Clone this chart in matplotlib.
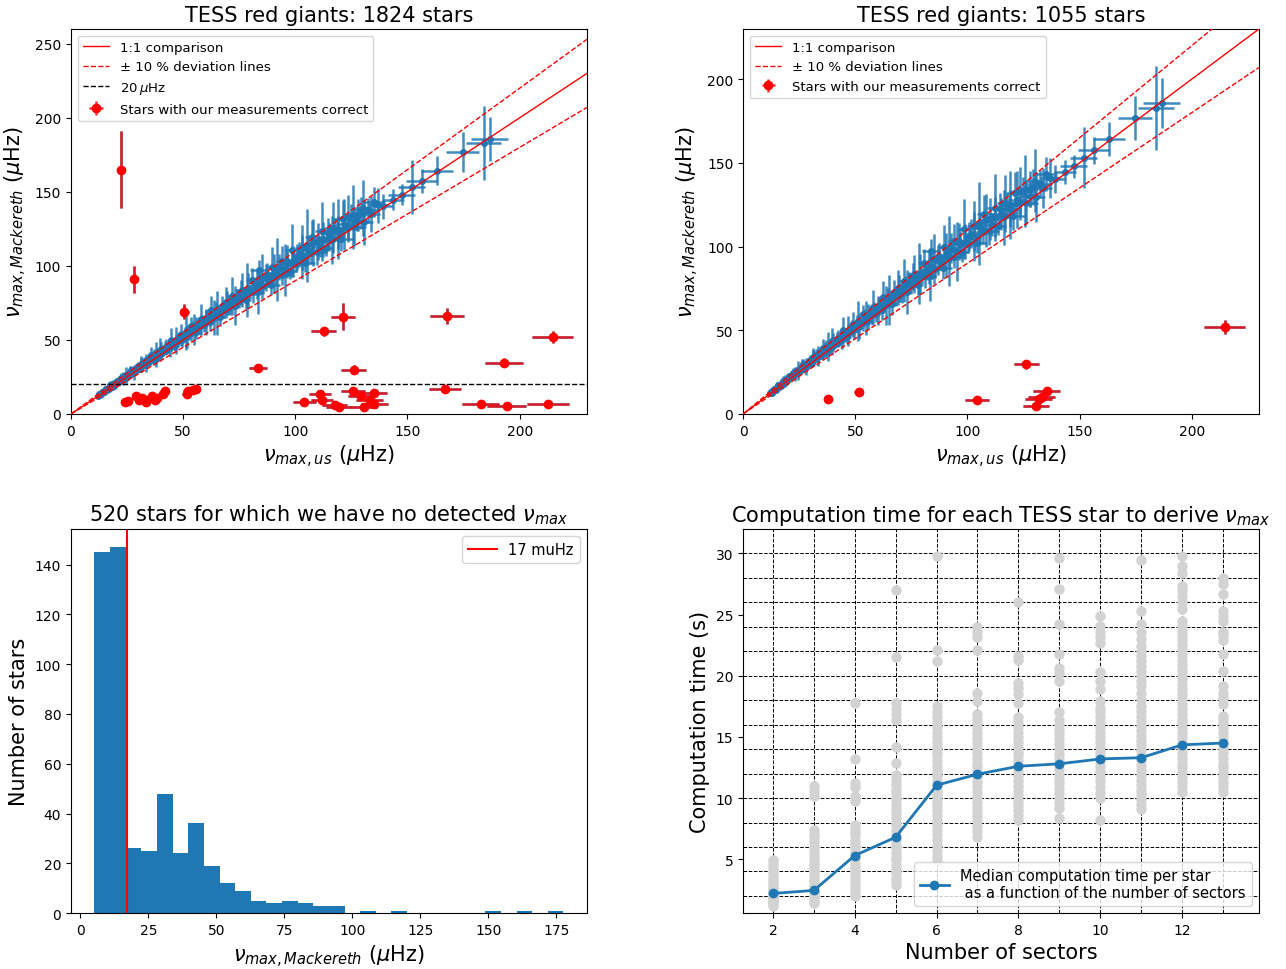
import numpy as np
import matplotlib
matplotlib.use("Agg")
import matplotlib.pyplot as plt
from matplotlib.ticker import MultipleLocator

# Stars on the 1:1 relation: nu_max from our pipeline vs Mackereth (muHz)
blue_us = [
    12.0, 12.4, 12.8, 13.1, 13.5, 13.9, 14.2, 14.6, 15.0, 15.3, 15.7, 16.1, 16.5, 16.9, 17.3,
    17.7, 18.1, 18.5, 18.9, 19.3, 19.8, 20.2, 20.6, 21.1, 21.5, 22.0, 22.4, 22.9, 23.3, 23.8,
    24.3, 24.7, 25.2, 25.7, 26.2, 26.7, 27.2, 27.7, 28.2, 28.7, 29.2, 29.8, 30.3, 30.8, 31.4,
    31.9, 32.5, 33.0, 33.6, 34.2, 34.8, 35.4, 36.0, 36.6, 37.2, 37.8, 38.4, 39.0, 39.7, 40.3,
    41.0, 41.7, 42.4, 43.2, 44.0, 44.7, 45.5, 46.3, 47.0, 47.8, 48.6, 49.4, 50.2, 51.0, 51.8,
    52.6, 53.4, 54.2, 55.0, 55.9, 56.7, 57.6, 58.4, 59.3, 60.1, 61.0, 61.9, 62.8, 63.7, 64.6,
    65.5, 66.4, 67.3, 68.2, 69.2, 70.1, 71.0, 72.0, 73.0, 73.9, 74.9, 75.9, 76.9, 77.9, 78.9,
    79.9,
    81.0, 82.1, 83.3, 84.4, 85.6, 86.8, 88.0, 89.2, 90.4, 91.6, 92.8, 94.0, 95.3, 96.5, 97.8,
    99.0, 100.3, 101.6, 102.9, 104.2, 105.5, 106.8, 108.1, 109.5, 110.8, 112.2, 113.5, 114.9,
    116.3, 117.7, 119.1, 120.5, 121.9, 123.4, 124.8, 126.3, 127.7, 129.2, 130.7, 132.2, 133.7,
    135.2, 136.8,
    83.9, 139.1, 143.6, 147.4, 151.9, 156.3, 163.2, 174.7, 184.0, 186.6,
]
blue_mack = [
    12.4, 13.3, 12.8, 13.8, 13.8, 15.0, 14.8, 14.5, 15.9, 15.8, 17.1, 16.3, 17.0, 18.1, 17.3,
    18.6, 18.5, 20.0, 19.7, 19.1, 21.0, 20.8, 22.5, 21.3, 22.1, 23.5, 22.4, 24.0, 23.8, 25.7,
    25.3, 24.5, 26.7, 26.5, 28.6, 27.0, 28.0, 29.6, 28.2, 30.1, 29.8, 32.2, 31.5, 30.5, 33.3,
    32.9, 35.4, 33.3, 34.6, 36.6, 34.8, 37.2, 36.7, 39.5, 38.7, 37.4, 40.7, 40.2, 43.3, 40.7,
    42.2, 44.6, 42.4, 45.4, 44.9, 48.3, 47.3, 45.8, 49.8, 49.2, 53.0, 49.9, 51.7, 54.6, 51.8,
    55.2, 54.5, 58.5, 57.2, 55.3, 60.1, 59.3, 63.7, 59.9, 61.9, 65.3, 61.9, 65.9, 65.0, 69.8,
    68.1, 65.7, 71.3, 70.2, 75.4, 70.8, 73.1, 77.0, 73.0, 77.6, 76.4, 82.0, 80.0, 77.1, 83.6,
    82.3,
    82.6, 86.2, 82.5, 87.8, 86.5, 92.0, 90.6, 87.4, 94.9, 93.4, 99.3, 94.0, 97.2, 101.3, 96.8,
    103.0, 101.3, 107.7, 106.0, 102.1, 110.8, 108.9, 115.7, 109.5, 113.0, 117.8, 112.4, 119.5,
    117.5, 124.8, 122.7, 118.1, 128.0, 125.9, 133.5, 126.3, 130.3, 135.7, 129.4, 137.5, 135.0,
    143.3, 140.9,
    97.3, 140.3, 144.6, 148.0, 153.2, 157.4, 164.4, 176.8, 182.9, 185.8,
]
blue_us_err = [
    0.3, 0.4, 0.3, 0.5, 0.3, 0.4, 0.3, 0.4, 0.3, 0.6, 0.3, 0.5, 0.4, 0.5, 0.3,
    0.7, 0.4, 0.6, 0.4, 0.5, 0.4, 0.8, 0.4, 0.6, 0.5, 0.7, 0.4, 0.9, 0.5, 0.7,
    0.5, 0.7, 0.5, 1.0, 0.5, 0.8, 0.5, 0.8, 0.6, 1.1, 0.6, 0.9, 0.6, 0.9, 0.6,
    1.2, 0.7, 1.0, 0.7, 1.0, 0.7, 1.4, 0.7, 1.1, 0.7, 1.1, 0.8, 1.5, 0.8, 1.2,
    1.0, 1.4, 0.9, 1.6, 1.1, 1.3, 1.0, 1.5, 1.1, 1.7, 1.2, 1.4, 1.1, 1.6, 1.2,
    1.9, 1.3, 1.5, 1.2, 1.8, 1.3, 2.0, 1.4, 1.6, 1.3, 1.9, 1.4, 2.2, 1.5, 1.8,
    1.5, 2.1, 1.6, 2.4, 1.6, 1.9, 1.6, 2.3, 1.7, 2.6, 1.8, 2.1, 1.8, 2.5, 1.9,
    2.8,
    2.4, 3.3, 2.5, 3.6, 2.6, 3.1, 2.7, 3.8, 2.8, 3.4, 2.9, 4.0, 3.0, 3.6, 3.0,
    4.2, 3.1, 3.7, 3.2, 4.4, 3.3, 3.9, 3.4, 4.6, 3.5, 4.0, 3.5, 4.8,
    3.6, 4.2, 3.7, 5.0, 3.8, 4.3, 3.9, 5.2, 4.0, 4.5, 4.1, 5.4, 4.2,
    4.7, 4.3,
    4.0, 4.6, 5.0, 6.0, 6.0, 7.0, 7.0, 7.4, 7.9, 8.2,
]
blue_mack_err = [
    0.7, 1.3, 0.6, 1.1, 1.9, 0.9, 1.3, 1.0, 2.9, 1.3, 1.0, 1.6, 0.9, 1.4, 2.4,
    1.1, 1.7, 1.4, 3.5, 1.5, 1.3, 2.1, 1.1, 1.7, 3.1, 1.4, 2.0, 1.7, 4.3, 2.1,
    1.5, 2.5, 1.3, 2.1, 4.0, 1.6, 2.5, 2.1, 5.1, 2.4, 1.8, 3.2, 1.6, 2.4, 4.7,
    2.0, 3.2, 2.3, 6.2, 2.9, 2.1, 3.7, 1.8, 3.2, 5.4, 2.2, 3.7, 2.8, 7.8, 3.3,
    2.5, 4.5, 2.1, 3.6, 6.3, 2.9, 4.3, 3.2, 9.0, 3.9, 3.2, 5.0, 2.6, 4.4, 7.3,
    3.3, 4.9, 4.1, 10.3, 4.4, 3.6, 5.9, 3.2, 4.8, 8.7, 3.9, 5.6, 4.6, 11.7, 5.6,
    4.1, 6.6, 3.6, 5.6, 10.6, 4.2, 6.6, 5.4, 13.1, 6.2, 4.6, 8.2, 4.0, 6.2, 11.7,
    4.9,
    7.4, 6.0, 14.9, 7.0, 5.2, 9.2, 4.5, 7.0, 13.3, 5.6, 8.9, 6.6, 17.5, 8.1, 5.8,
    10.3, 5.1, 8.6, 14.8, 6.1, 10.0, 7.6, 16.0, 8.8, 6.8, 11.8, 5.6, 9.6,
    16.5, 7.5, 11.0, 8.3, 17.0, 10.1, 8.0, 12.6, 6.5, 10.9, 15.0, 8.3, 12.2,
    10.0, 12.0,
    7.0, 8.5, 7.0, 7.0, 18.0, 8.0, 10.0, 13.3, 25.0, 15.0,
]

# Stars sitting on the upper side of the relation
upper_us = [
    15.4, 17.6, 19.9, 22.1, 24.4, 26.6, 28.9, 31.1, 33.4, 35.6, 37.9, 40.1, 42.4, 44.6,
    46.9, 49.1, 51.4, 53.6, 55.9, 58.1, 60.4, 62.6, 64.9, 67.1, 69.4, 71.6, 73.9, 76.1,
    78.4, 80.6, 82.9, 85.1, 87.4, 89.6, 91.9, 94.1, 96.4, 98.6, 100.9, 103.1, 105.4, 107.6,
    109.9, 112.1, 114.4, 116.6, 118.9, 121.1, 123.4, 125.6, 127.9, 130.1,
]
upper_mack = [
    16.6, 19.5, 21.1, 24.3, 26.1, 29.8, 30.3, 33.9, 36.1, 39.5, 40.2, 44.1, 45.4, 50.0,
    49.2, 53.5, 55.5, 59.5, 59.3, 63.9, 64.6, 70.1, 68.1, 73.1, 75.0, 79.5, 78.3, 83.7,
    83.9, 90.3, 87.0, 92.8, 94.4, 99.5, 97.4, 103.5, 103.1, 110.4, 105.9, 112.4, 113.8, 119.4,
    116.5, 123.3, 122.4, 125.9, 124.8, 132.0, 133.3, 133.1, 134.3, 139.2,
]
upper_us_err = [
    0.5, 0.6, 0.6, 0.8, 0.7, 0.9, 0.9, 1.0, 1.0, 1.2, 1.1, 1.3, 1.3, 1.4,
    1.4, 1.6, 1.5, 1.7, 1.7, 1.8, 1.8, 2.0, 1.9, 2.1, 2.1, 2.2, 2.2, 2.4,
    2.3, 2.5, 2.5, 2.6, 2.6, 2.8, 2.7, 2.9, 2.9, 3.0, 3.0, 3.2, 3.1, 3.3,
    3.3, 3.4, 3.4, 3.6, 3.5, 3.7, 3.7, 3.8, 3.8, 4.0,
]
upper_mack_err = [
    1.8, 3.1, 1.8, 3.2, 5.7, 2.8, 3.2, 5.5, 3.0, 5.4, 8.6, 4.2, 4.9, 8.1,
    4.1, 7.3, 12.0, 5.7, 6.3, 10.4, 5.3, 9.5, 14.7, 6.9, 8.1, 12.8, 6.3, 11.3,
    18.1, 8.5, 9.5, 15.0, 7.7, 13.5, 21.1, 9.7, 11.1, 17.8, 8.6, 15.1, 24.6, 11.3,
    12.6, 20.0, 9.9, 17.0, 20.3, 12.4, 14.4, 21.6, 10.9, 18.8,
]

# Stars flagged in red, left panel (1824 stars)
red_us = [22.3, 28.0, 50.5, 121.2, 112.7, 167.6, 214.7, 83.4, 126.0, 193.0, 166.8, 182.6,
          194.2, 212.7, 104.0, 111.0, 111.8, 117.5, 119.4, 125.7, 129.5, 130.4, 133.2, 135.0,
          135.3, 24.1, 25.6, 29.0, 30.3, 31.8, 33.3, 33.6, 36.0, 37.6, 38.4, 41.0, 42.1,
          51.5, 52.1, 54.5, 55.6]
red_mack = [165.0, 91.0, 69.0, 65.8, 55.7, 66.3, 52.0, 30.8, 29.9, 34.6, 17.0, 7.0,
            5.4, 7.0, 8.1, 13.6, 9.7, 5.9, 4.8, 15.2, 12.0, 5.0, 9.7, 14.0,
            6.8, 8.4, 9.0, 12.0, 9.7, 10.9, 9.7, 7.9, 12.0, 9.7, 10.9, 13.6, 15.2,
            13.3, 15.8, 16.5, 17.0]
red_us_err = [0.8, 0.8, 2.0, 5.5, 5.6, 7.5, 9.2, 4.0, 5.6, 8.5, 7.2, 8.3,
              8.8, 9.4, 5.2, 5.0, 5.0, 5.5, 5.6, 5.5, 5.8, 5.8, 6.0, 6.0,
              6.0, 0.6, 0.6, 0.7, 0.7, 0.8, 0.8, 0.8, 0.9, 0.9, 0.9, 1.0, 1.0,
              2.0, 2.0, 2.0, 2.0]
red_mack_err = [26.0, 9.0, 5.0, 9.0, 3.0, 5.5, 4.0, 1.5, 3.0, 3.0, 1.5, 1.0,
                1.0, 1.0, 1.0, 1.5, 1.0, 1.0, 1.0, 1.5, 1.0, 1.0, 1.0, 1.5,
                1.0, 0.8, 0.8, 1.0, 1.0, 1.0, 1.0, 1.0, 1.0, 1.0, 1.0, 1.0, 1.0,
                1.2, 1.2, 1.2, 1.2]

# Stars flagged in red, right panel (1055 stars)
red2_us = [214.7, 126.3, 51.5, 38.0, 104.3, 135.3, 133.2, 131.9, 130.5]
red2_mack = [52.0, 29.6, 13.4, 9.2, 8.2, 13.8, 10.0, 9.0, 4.8]
red2_us_err = [9.2, 5.6, 2.0, 0.9, 5.2, 6.0, 6.0, 6.0, 5.8]
red2_mack_err = [4.0, 2.5, 1.2, 1.0, 1.0, 1.5, 1.0, 1.0, 1.0]

# Histogram of the 520 stars without detection
hist_counts = [145, 147, 26, 25, 48, 24, 36, 19, 12, 9, 5, 4, 5, 4, 3, 3, 0, 1, 0, 1,
               0, 0, 0, 0, 0, 1, 0, 1, 0, 1]
hist_range = (5.2, 177.6)
cut_freq = 17

# Computation time (s) per star, grouped by number of sectors
sectors = [2, 3, 4, 5, 6, 7, 8, 9, 10, 11, 12, 13]
times_by_sector = [
    [1.2, 1.3, 1.5, 1.6, 1.7, 1.8, 1.9, 2.0, 2.1, 2.2, 2.3, 2.4, 2.6, 2.7, 2.9, 3.1, 3.3,
     3.5, 3.8, 4.0, 4.3, 4.6, 4.9],
    [1.4, 1.6, 1.8, 2.0, 2.2, 2.3, 2.5, 2.7, 2.9, 3.2, 3.4, 3.7, 4.0, 4.3, 4.6, 4.9, 5.3,
     5.6, 6.0, 6.4, 6.8, 7.1, 7.4, 10.2, 10.6, 11.0],
    [2.0, 2.3, 2.6, 2.9, 3.2, 3.5, 3.8, 4.1, 4.4, 4.7, 5.0, 5.3, 5.6, 5.9, 6.2, 6.5, 6.9,
     7.2, 7.5, 7.8, 9.8, 10.2, 10.9, 11.2, 13.2, 17.8],
    [2.9, 3.2, 3.5, 3.9, 4.2, 4.5, 4.9, 5.2, 5.5, 5.9, 6.2, 6.6, 6.9, 7.3, 7.7, 8.0, 8.4,
     8.8, 9.1, 9.5, 9.9, 10.3, 10.7, 11.1, 11.5, 11.9, 12.9, 14.2, 16.4, 16.9, 17.3, 17.8,
     21.5, 27.0],
    [4.9, 5.3, 5.7, 6.2, 6.6, 7.0, 7.4, 7.8, 8.2, 8.6, 9.0, 9.4, 9.8, 10.2, 10.6, 11.0,
     11.4, 11.8, 12.2, 12.6, 13.0, 13.4, 13.8, 14.2, 14.6, 15.0, 15.4, 15.8, 16.2, 16.6,
     17.0, 17.5, 21.2, 22.1, 29.8],
    [6.8, 7.3, 7.7, 8.1, 8.5, 8.9, 9.3, 9.7, 10.1, 10.5, 10.9, 11.3, 11.7, 12.1, 12.5, 12.9,
     13.3, 13.7, 14.1, 14.5, 14.9, 15.3, 15.7, 16.1, 16.5, 16.9, 17.9, 18.6, 22.1, 23.2,
     23.6, 24.0],
    [8.2, 8.6, 9.0, 9.4, 9.8, 10.2, 10.6, 11.0, 11.4, 11.8, 12.2, 12.6, 13.0, 13.4, 13.8,
     14.2, 14.6, 15.0, 15.4, 15.8, 16.2, 16.6, 17.8, 18.5, 19.0, 19.4, 21.3, 21.6, 26.0],
    [8.4, 9.2, 9.6, 10.0, 10.4, 10.8, 11.2, 11.6, 12.0, 12.4, 12.8, 13.2, 13.6, 14.0, 14.4,
     14.8, 15.2, 15.6, 16.0, 16.4, 17.0, 19.6, 20.2, 20.6, 21.8, 24.2, 27.1, 29.6],
    [8.2, 10.0, 10.4, 10.9, 11.4, 11.8, 12.2, 12.6, 13.0, 13.4, 13.8, 14.2, 14.6, 15.0,
     15.4, 15.8, 16.2, 16.6, 17.0, 17.4, 17.9, 18.9, 19.6, 20.3, 22.7, 23.2, 23.6, 24.1,
     24.9],
    [9.1, 9.5, 9.9, 10.3, 10.7, 11.1, 11.5, 11.9, 12.3, 12.7, 13.1, 13.5, 13.9, 14.3, 14.7,
     15.1, 15.5, 15.9, 16.3, 16.7, 17.1, 17.5, 18.0, 18.6, 19.2, 19.6, 20.0, 20.4, 20.8,
     21.2, 21.6, 22.0, 22.4, 23.0, 23.6, 24.2, 25.3, 29.5],
    [10.5, 10.9, 11.3, 11.7, 12.1, 12.5, 12.9, 13.3, 13.7, 14.1, 14.5, 14.9, 15.3, 15.7,
     16.1, 16.5, 16.9, 17.3, 17.7, 18.1, 18.5, 18.9, 19.3, 19.7, 20.1, 20.5, 20.9, 21.3,
     21.7, 22.1, 22.5, 22.9, 23.3, 23.7, 24.1, 24.5, 25.5, 26.0, 26.5, 27.0, 27.3, 28.4,
     29.0, 29.8],
    [10.5, 10.9, 11.3, 11.7, 12.1, 12.5, 12.9, 13.3, 13.7, 14.1, 14.5, 14.9, 15.3, 15.7,
     16.1, 16.5, 16.7, 17.7, 18.2, 18.6, 19.2, 20.4, 21.8, 22.9, 23.3, 23.6, 24.5, 24.9,
     25.3, 26.7, 27.5, 28.0],
]
median_time = [2.2, 2.45, 5.3, 6.8, 11.05, 11.95, 12.6, 12.8, 13.2, 13.3, 14.35, 14.5]

BLUE_ERR = (0.122, 0.467, 0.706, 0.85)
LBL_FS = 15


def comparison_panel(ax, r_us, r_mack, r_us_err, r_mack_err, n_stars, ylim, with_cut):
    # every star in blue, flagged ones repeated on top in red
    all_us = blue_us + upper_us + r_us
    all_mack = blue_mack + upper_mack + r_mack
    all_us_err = blue_us_err + upper_us_err + r_us_err
    all_mack_err = blue_mack_err + upper_mack_err + r_mack_err
    ax.errorbar(all_us, all_mack, xerr=all_us_err, yerr=all_mack_err, fmt="o", ms=4,
                color="C0", ecolor=BLUE_ERR, elinewidth=1.8, zorder=2)
    ax.axline((0, 0), slope=1, color="red", lw=1, label="1:1 comparison", zorder=3)
    ax.axline((0, 0), slope=1.1, color="red", lw=1, ls="--",
              label="± 10 % deviation lines", zorder=3)
    ax.axline((0, 0), slope=0.9, color="red", lw=1, ls="--", zorder=3)
    if with_cut:
        ax.axhline(20, color="black", lw=1, ls="--", label=r"20$\,\mu$Hz", zorder=3)
    ax.errorbar(r_us, r_mack, xerr=r_us_err, yerr=r_mack_err, fmt="o", ms=6,
                color="red", ecolor=(1, 0, 0, 0.8), elinewidth=1.8,
                label="Stars with our measurements correct", zorder=4)
    ax.set_xlim(0, 230)
    ax.set_ylim(*ylim)
    ax.set_xlabel(r"$\nu_{max, us}$ ($\mu$Hz)", fontsize=LBL_FS)
    ax.set_ylabel(r"$\nu_{max, Mackereth}$ ($\mu$Hz)", fontsize=LBL_FS)
    ax.set_title(f"TESS red giants: {n_stars} stars", fontsize=LBL_FS)
    ax.legend(loc="upper left", fontsize=9.5)


fig = plt.figure(figsize=(12.86, 9.70), dpi=100)
ax_tl = fig.add_axes([0.0552, 0.5722, 0.4012, 0.3969])
ax_tr = fig.add_axes([0.5778, 0.5722, 0.4012, 0.3969])
ax_bl = fig.add_axes([0.0552, 0.0577, 0.4012, 0.3959])
ax_br = fig.add_axes([0.5778, 0.0577, 0.4012, 0.3959])

comparison_panel(ax_tl, red_us, red_mack, red_us_err, red_mack_err, 1824, (0, 260), True)
comparison_panel(ax_tr, red2_us, red2_mack, red2_us_err, red2_mack_err, 1055, (0, 230), False)

# Histogram of the non-detections
edges = np.linspace(hist_range[0], hist_range[1], len(hist_counts) + 1)
ax_bl.hist(edges[:-1], bins=edges, weights=hist_counts, color="C0")
ax_bl.axvline(cut_freq, color="red", lw=1.5, label=f"{cut_freq} muHz")
ax_bl.legend(loc="upper right", fontsize=10.5)
ax_bl.set_xlabel(r"$\nu_{max, Mackereth}$ ($\mu$Hz)", fontsize=LBL_FS)
ax_bl.set_ylabel("Number of stars", fontsize=LBL_FS)
ax_bl.set_title(r"520 stars for which we have no detected $\nu_{max}$", fontsize=LBL_FS)

# Computation time vs number of sectors
for n_sec, times in zip(sectors, times_by_sector):
    ax_br.scatter([n_sec] * len(times), times, s=42, color="lightgray", zorder=2)
ax_br.plot(sectors, median_time, "o-", color="C0", lw=2, ms=6, zorder=3,
           label="Median computation time per star\n as a function of the number of sectors")
ax_br.set_xlim(1.27, 13.88)
ax_br.set_ylim(0.6, 32)
ax_br.xaxis.set_major_locator(MultipleLocator(2))
ax_br.xaxis.set_minor_locator(MultipleLocator(1))
ax_br.yaxis.set_major_locator(MultipleLocator(5))
ax_br.yaxis.set_minor_locator(MultipleLocator(2))
ax_br.xaxis.remove_overlapping_locs = False
ax_br.yaxis.remove_overlapping_locs = False
ax_br.tick_params(which="minor", length=0)
ax_br.grid(which="minor", color="black", ls="--", lw=0.7)
ax_br.legend(loc="lower right", fontsize=10.5)
ax_br.set_xlabel("Number of sectors", fontsize=LBL_FS)
ax_br.set_ylabel("Computation time (s)", fontsize=LBL_FS)
ax_br.set_title(r"Computation time for each TESS star to derive $\nu_{max}$", fontsize=LBL_FS)

fig.savefig("out.png", dpi=100)
